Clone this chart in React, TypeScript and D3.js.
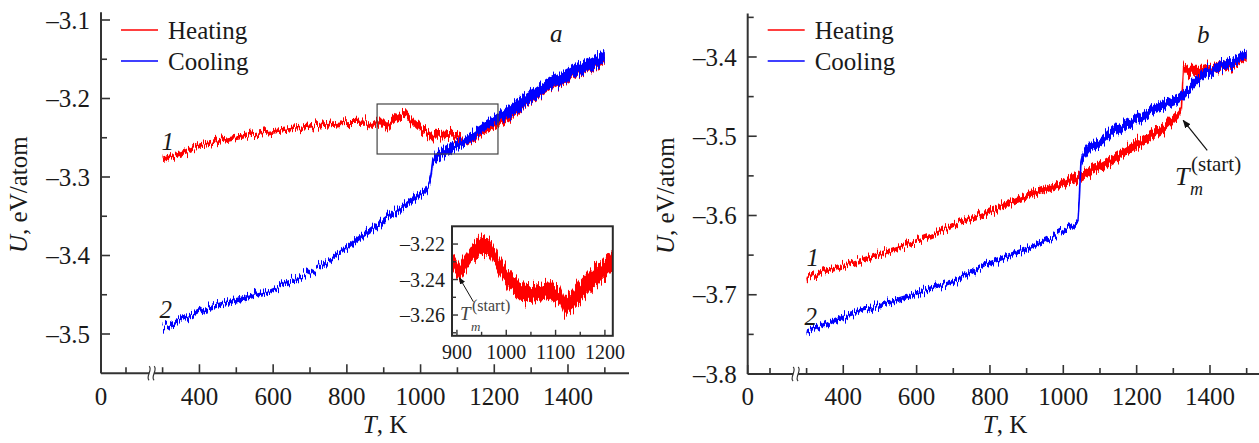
import React from 'react';
import * as d3 from 'd3';

// ---------- Panel a: heating (curve 1) ----------
const aHeatT = [300, 350, 401, 470, 537, 600, 672, 727, 781, 854, 870, 890, 906, 932, 947, 967, 987, 1007, 1028, 1048, 1068, 1086, 1109, 1119, 1129, 1150, 1170, 1190, 1210, 1250, 1289, 1352, 1414, 1460, 1500];
const aHeatU = [-3.277, -3.270, -3.260, -3.253, -3.2465, -3.242, -3.2376, -3.234, -3.231, -3.230, -3.234, -3.229, -3.236, -3.225, -3.2206, -3.222, -3.233, -3.241, -3.247, -3.2476, -3.247, -3.246, -3.249, -3.2555, -3.253, -3.247, -3.241, -3.236, -3.231, -3.216, -3.201, -3.182, -3.167, -3.157, -3.149];
const aHeatS = [0.003, 0.003, 0.003, 0.003, 0.003, 0.003, 0.003, 0.003, 0.003, 0.0035, 0.0035, 0.005, 0.005, 0.005, 0.005, 0.005, 0.005, 0.005, 0.005, 0.005, 0.005, 0.005, 0.005, 0.005, 0.005, 0.006, 0.006, 0.006, 0.006, 0.008, 0.008, 0.008, 0.008, 0.008, 0.008];

// ---------- Panel a: cooling (curve 2) ----------
const aCoolT = [300, 320, 400, 491, 583, 672, 727, 780, 835, 925, 971, 1012, 1022, 1028, 1033, 1040, 1060, 1107, 1150, 1197, 1250, 1289, 1352, 1414, 1460, 1500];
const aCoolU = [-3.492, -3.4885, -3.470, -3.458, -3.4465, -3.428, -3.414, -3.397, -3.378, -3.347, -3.331, -3.318, -3.312, -3.300, -3.280, -3.274, -3.269, -3.258, -3.244, -3.229, -3.213, -3.200, -3.181, -3.166, -3.156, -3.147];
const aCoolS = [0.003, 0.003, 0.003, 0.003, 0.003, 0.003, 0.003, 0.003, 0.004, 0.004, 0.004, 0.004, 0.004, 0.004, 0.004, 0.006, 0.006, 0.006, 0.006, 0.006, 0.008, 0.008, 0.008, 0.008, 0.008, 0.008];

// ---------- Panel b: heating (curve 1) ----------
const bHeatT = [300, 391, 480, 573, 650, 718, 800, 873, 960, 1037, 1100, 1146, 1200, 1236, 1280, 1310, 1322, 1328, 1346, 1382, 1420, 1464, 1500];
const bHeatU = [-3.679, -3.665, -3.652, -3.637, -3.624, -3.609, -3.595, -3.5804, -3.566, -3.553, -3.538, -3.526, -3.511, -3.501, -3.488, -3.475, -3.466, -3.412, -3.418, -3.418, -3.413, -3.407, -3.399];
const bHeatS = [0.003, 0.003, 0.003, 0.003, 0.003, 0.003, 0.004, 0.004, 0.004, 0.006, 0.006, 0.006, 0.006, 0.006, 0.006, 0.006, 0.004, 0.004, 0.007, 0.007, 0.007, 0.007, 0.007];

// ---------- Panel b: cooling (curve 2) ----------
const bCoolT = [300, 391, 480, 573, 640, 691, 718, 800, 909, 970, 1018, 1040, 1044, 1048, 1052, 1072, 1099, 1146, 1200, 1255, 1309, 1327, 1382, 1420, 1464, 1500];
const bCoolU = [-3.747, -3.728, -3.716, -3.703, -3.692, -3.684, -3.679, -3.659, -3.641, -3.628, -3.6145, -3.608, -3.575, -3.535, -3.526, -3.5136, -3.5085, -3.490, -3.479, -3.464, -3.454, -3.448, -3.422, -3.413, -3.405, -3.397];
const bCoolS = [0.003, 0.003, 0.003, 0.003, 0.003, 0.003, 0.003, 0.003, 0.003, 0.003, 0.003, 0.003, 0.003, 0.003, 0.006, 0.006, 0.006, 0.006, 0.006, 0.006, 0.006, 0.006, 0.006, 0.006, 0.006, 0.006];

// ---------- Ticks ----------
const xMajor = [0, 400, 600, 800, 1000, 1200, 1400];
const xMinor = [100, 300, 500, 700, 900, 1100, 1300, 1500];
const aYMajor = [-3.5, -3.4, -3.3, -3.2, -3.1];
const aYMinor = [-3.45, -3.35, -3.25, -3.15];
const bYMajor = [-3.8, -3.7, -3.6, -3.5, -3.4];
const bYMinor = [-3.75, -3.65, -3.55, -3.45, -3.35];
const insetXMajor = [900, 1000, 1100, 1200];
const insetXMinor = [950, 1050, 1150];
const insetYMajor = [-3.22, -3.24, -3.26];
const insetYMinor = [-3.23, -3.25, -3.27];
const insetTRange = [890, 1216];
const insetURange = [-3.2717, -3.21];
const zoomBoxT = [882, 1210];
const zoomBoxU = [-3.2707, -3.207];
const legendNames = ['Heating', 'Cooling'];
const RED = '#ff0000';
const BLUE = '#0000ff';
const FONT = "'Liberation Serif', Tinos, 'Times New Roman', 'DejaVu Serif', serif";
const AX = '#333';
const TXT = '#1a1a1a';

type Pt = { T: number; U: number; s: number };
const mk = (T: number[], U: number[], S: number[]): Pt[] => T.map((t, i) => ({ T: t, U: U[i], s: S[i] }));

const fmt1 = (v: number) => d3.format('.1f')(v).replace('−', '–').replace('-', '–');
const fmt2 = (v: number) => d3.format('.2f')(v).replace('−', '–').replace('-', '–');

function Band({ data, x, y, color, filter }: { data: Pt[]; x: any; y: any; color: string; filter: string }) {
  const area = d3.area<Pt>().x(d => x(d.T)).y0(d => y(d.U - d.s)).y1(d => y(d.U + d.s));
  const line = d3.line<Pt>().x(d => x(d.T)).y(d => y(d.U));
  return (
    <g filter={`url(#${filter})`}>
      <path d={area(data) || ''} fill={color} />
      <path d={line(data) || ''} fill="none" stroke={color} strokeWidth={1.6} />
    </g>
  );
}

function Panel({ x, y, yMajor, yMinor, axisEnd, labelX }: any) {
  const x0 = x(0);
  const yBot = y.range()[0];
  const yTop = y.range()[1];
  const brk = x(240);
  return (
    <g style={{ fontFamily: FONT }} fill={TXT}>
      <line x1={x0} y1={yTop} x2={x0} y2={yBot} stroke={AX} strokeWidth={2} />
      <line x1={x0} y1={yBot} x2={axisEnd} y2={yBot} stroke={AX} strokeWidth={2} />
      {yMajor.map((v: number) => (
        <g key={'ym' + v}>
          <line x1={x0} x2={x0 + 9} y1={y(v)} y2={y(v)} stroke={AX} strokeWidth={1.6} />
          <text x={x0 - 11} y={y(v)} dy="0.35em" textAnchor="end" fontSize={25}>{fmt1(v)}</text>
        </g>
      ))}
      {yMinor.map((v: number) => (
        <line key={'yn' + v} x1={x0} x2={x0 + 6} y1={y(v)} y2={y(v)} stroke={AX} strokeWidth={1.6} />
      ))}
      {xMajor.map(v => (
        <g key={'xm' + v}>
          <line x1={x(v)} x2={x(v)} y1={yBot} y2={yBot - 9} stroke={AX} strokeWidth={1.6} />
          <text x={x(v)} y={405} textAnchor="middle" fontSize={25}>{v}</text>
        </g>
      ))}
      {xMinor.map(v => (
        <line key={'xn' + v} x1={x(v)} x2={x(v)} y1={yBot} y2={yBot - 6} stroke={AX} strokeWidth={1.6} />
      ))}
      <rect x={brk - 2.5} y={yBot - 2} width={5} height={4} fill="#fff" />
      {[-2.5, 2.5].map(o => (
        <path key={o} d={`M${brk + o},${yBot - 7} C${brk + o + 4},${yBot - 4} ${brk + o - 4},${yBot + 4} ${brk + o},${yBot + 7}`} fill="none" stroke={AX} strokeWidth={1.2} />
      ))}
      <text transform={`translate(${x0 - 74},${(yTop + yBot) / 2 + 2}) rotate(-90)`} textAnchor="middle" fontSize={25}>
        <tspan fontStyle="italic">U</tspan>, eV/atom
      </text>
      <text x={labelX} y={433} textAnchor="middle" fontSize={25}>
        <tspan fontStyle="italic">T</tspan>, K
      </text>
      {legendNames.map((n, i) => (
        <g key={n}>
          <line x1={x0 + 20} x2={x0 + 57} y1={30 + i * 31} y2={30 + i * 31} stroke={i === 0 ? RED : BLUE} strokeWidth={1.5} />
          <text x={x0 + 67} y={39 + i * 31} fontSize={25}>{n}</text>
        </g>
      ))}
    </g>
  );
}

export default function App() {
  const xA = d3.scaleLinear().domain([0, 100, 300, 1565]).range([101, 126, 162.6, 628.8]);
  const yA = d3.scaleLinear().domain([-3.55, -3.09]).range([373.25, 12.15]);
  const xB = d3.scaleLinear().domain([0, 100, 300, 1535]).range([747.7, 770, 806.6, 1259.5]);
  const yB = d3.scaleLinear().domain([-3.8, -3.345]).range([374, 13.4]);
  const xI = d3.scaleLinear().domain(insetTRange).range([452, 612.8]);
  const yI = d3.scaleLinear().domain(insetURange).range([335.8, 226.3]);

  const aHeat = mk(aHeatT, aHeatU, aHeatS);
  const aCool = mk(aCoolT, aCoolU, aCoolS);
  const bHeat = mk(bHeatT, bHeatU, bHeatS);
  const bCool = mk(bCoolT, bCoolU, bCoolS);
  const inset = aHeat.filter(d => d.T >= 870 && d.T <= 1250);

  const ix0 = xI.range()[0], ix1 = xI.range()[1];
  const iy0 = yI.range()[1], iy1 = yI.range()[0];

  const tmA = { T: 905, U: -3.239 };
  const tmB = { T: 1327, U: -3.48 };

  const jitter = (id: string, freq: string, seed: number, scale: number) => (
    <filter id={id} filterUnits="userSpaceOnUse" x={0} y={0} width={1259} height={443}>
      <feTurbulence type="fractalNoise" baseFrequency={freq} numOctaves={2} seed={seed} result="n" />
      <feComponentTransfer in="n" result="n2">
        <feFuncR type="linear" slope={0} intercept={0.5} />
      </feComponentTransfer>
      <feDisplacementMap in="SourceGraphic" in2="n2" scale={scale} xChannelSelector="R" yChannelSelector="G" />
    </filter>
  );

  return (
    <svg width={1259} height={443} style={{ position: 'absolute', left: 0, top: 0, background: '#fff' }}>
      <defs>
        {jitter('jitA', '0.7 0.02', 4, 16)}
        {jitter('jitI', '0.6 0.02', 9, 22)}
        <clipPath id="insetClip">
          <rect x={ix0} y={iy0} width={ix1 - ix0} height={iy1 - iy0} />
        </clipPath>
        <marker id="ah" viewBox="0 0 10 10" refX={9} refY={5} markerWidth={7} markerHeight={7} orient="auto">
          <path d="M0,1 L10,5 L0,9 z" fill="#111" />
        </marker>
      </defs>

      {/* Panel a */}
      <Panel x={xA} y={yA} yMajor={aYMajor} yMinor={aYMinor} axisEnd={629} labelX={385} />
      <Band data={aHeat} x={xA} y={yA} color={RED} filter="jitA" />
      <Band data={aCool} x={xA} y={yA} color={BLUE} filter="jitA" />
      <rect x={xA(zoomBoxT[0])} y={yA(zoomBoxU[1])} width={xA(zoomBoxT[1]) - xA(zoomBoxT[0])} height={yA(zoomBoxU[0]) - yA(zoomBoxU[1])} fill="none" stroke="#444" strokeWidth={1.2} />
      <g style={{ fontFamily: FONT }} fill={TXT} fontStyle="italic" fontSize={25}>
        <text x={xA(300) - 1} y={yA(-3.277) - 9}>1</text>
        <text x={xA(300) - 3} y={yA(-3.492) - 10}>2</text>
        <text x={550} y={42}>a</text>
      </g>

      {/* Inset */}
      <rect x={ix0} y={iy0} width={ix1 - ix0} height={iy1 - iy0} fill="#fff" />
      <g clipPath="url(#insetClip)">
        <Band data={inset} x={xI} y={yI} color={RED} filter="jitI" />
      </g>
      <rect x={ix0} y={iy0} width={ix1 - ix0} height={iy1 - iy0} fill="none" stroke="#2a2a2a" strokeWidth={2} />
      <g style={{ fontFamily: FONT }} fill={TXT}>
        {insetXMajor.map(v => (
          <g key={'ixm' + v}>
            <line x1={xI(v)} x2={xI(v)} y1={iy1} y2={iy1 - 6} stroke={AX} strokeWidth={1.4} />
            <text x={xI(v)} y={359} textAnchor="middle" fontSize={20}>{v}</text>
          </g>
        ))}
        {insetXMinor.map(v => (
          <line key={'ixn' + v} x1={xI(v)} x2={xI(v)} y1={iy1} y2={iy1 - 4} stroke={AX} strokeWidth={1.4} />
        ))}
        {insetYMajor.map(v => (
          <g key={'iym' + v}>
            <line x1={ix0} x2={ix0 + 6} y1={yI(v)} y2={yI(v)} stroke={AX} strokeWidth={1.4} />
            <text x={445} y={yI(v)} dy="0.35em" textAnchor="end" fontSize={20}>{fmt2(v)}</text>
          </g>
        ))}
        {insetYMinor.map(v => (
          <line key={'iyn' + v} x1={ix0} x2={ix0 + 4} y1={yI(v)} y2={yI(v)} stroke={AX} strokeWidth={1.4} />
        ))}
        <line x1={xI(tmA.T) + 14} y1={yI(tmA.U) + 24} x2={xI(tmA.T)} y2={yI(tmA.U)} stroke="#111" strokeWidth={1} markerEnd="url(#ah)" />
        <g fill="#444">
          <text x={460} y={320} fontSize={19} fontStyle="italic">T</text>
          <text x={471} y={331} fontSize={13} fontStyle="italic">m</text>
          <text x={472} y={311} fontSize={16}>(start)</text>
        </g>
      </g>

      {/* Panel b */}
      <Panel x={xB} y={yB} yMajor={bYMajor} yMinor={bYMinor} axisEnd={1259} labelX={1005} />
      <Band data={bHeat} x={xB} y={yB} color={RED} filter="jitA" />
      <Band data={bCool} x={xB} y={yB} color={BLUE} filter="jitA" />
      <g style={{ fontFamily: FONT }} fill={TXT}>
        <g fontStyle="italic" fontSize={25}>
          <text x={xB(300)} y={yB(-3.679) - 12}>1</text>
          <text x={xB(300) - 2} y={yB(-3.747) - 7}>2</text>
          <text x={1197} y={43}>b</text>
        </g>
        <line x1={xB(tmB.T) + 24} y1={yB(tmB.U) + 30} x2={xB(tmB.T)} y2={yB(tmB.U)} stroke="#111" strokeWidth={1.2} markerEnd="url(#ah)" />
        <text x={1175} y={185} fontSize={26} fontStyle="italic">T</text>
        <text x={1190} y={195} fontSize={18} fontStyle="italic">m</text>
        <text x={1191} y={171} fontSize={21}>(start)</text>
      </g>
    </svg>
  );
}
